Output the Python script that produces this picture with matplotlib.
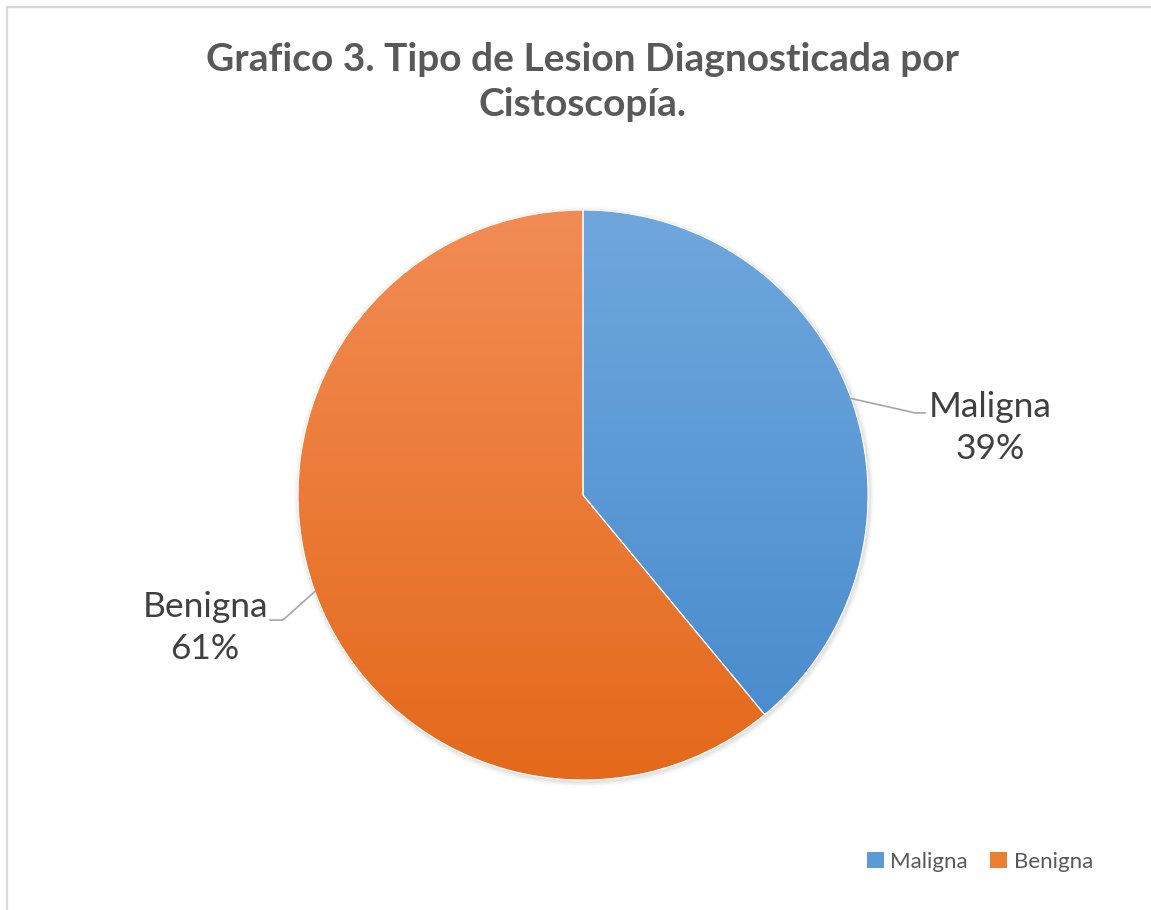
import numpy as np
import matplotlib
matplotlib.use("Agg")
import matplotlib.pyplot as plt
from matplotlib.patches import Rectangle, Patch
from matplotlib.colors import LinearSegmentedColormap

# Data
categories = ["Maligna", "Benigna"]
values = [39, 61]
top_colors = ["#6fa7dd", "#f28c55"]
bottom_colors = ["#4689cc", "#e4691a"]
solid_colors = ["#5b9bd5", "#ed7d31"]

plt.rcParams["font.family"] = ["Lato", "DejaVu Sans"]

W, H = 1151, 910
fig = plt.figure(figsize=(W / 100, H / 100), dpi=100)
fig.patch.set_facecolor("white")

# chart border (only left/top visible in the reference)
fig.patches.append(Rectangle((6.5 / W, -0.1), 1.2, 1 - 7.5 / H + 0.1,
                             transform=fig.transFigure, fill=False,
                             edgecolor="#d9d9d9", linewidth=1.6))

# pie axes: centre (583, 495) px, radius 285 px
cx, cy, r = 583, 495, 285
ax = fig.add_axes([(cx - r) / W, (H - cy - r) / H, 2 * r / W, 2 * r / H])

wedges, _ = ax.pie(values, startangle=90, counterclock=False, radius=1,
                   colors=solid_colors,
                   wedgeprops=dict(edgecolor="white", linewidth=0.8))
ax.set_xlim(-1, 1)
ax.set_ylim(-1, 1)
ax.set_aspect("equal")
ax.axis("off")

# soft shadow around the pie
for k, a in enumerate([0.05, 0.035, 0.02]):
    circ = plt.Circle((0.004, -0.006), 1 + 0.006 * (k + 1), color="black",
                      alpha=a, zorder=0, clip_on=False, linewidth=0)
    ax.add_patch(circ)

# vertical gradient fill clipped to each wedge
grad = np.linspace(1, 0, 256).reshape(-1, 1)
for w, c0, c1 in zip(wedges, top_colors, bottom_colors):
    cmap = LinearSegmentedColormap.from_list("g", [c1, c0])
    im = ax.imshow(grad, extent=(-1, 1, -1, 1), cmap=cmap, aspect="auto",
                   origin="upper", zorder=w.get_zorder() + 0.1,
                   interpolation="bilinear")
    im.set_clip_path(w)
# white separators on top
for w in wedges:
    w.set_facecolor("none")
    w.set_zorder(5)

# data labels with leader lines
total = sum(values)
start = 90.0
label_pos = {"Maligna": (1.428, 0.236), "Benigna": (-1.326, -0.467)}
elbow_x = {"Maligna": (1.165, 1.20), "Benigna": (-1.053, -1.098)}
elbow_y = {"Maligna": 0.288, "Benigna": -0.439}
for cat, v in zip(categories, values):
    span = v / total * 360
    mid = np.deg2rad(start - span / 2)
    start -= span
    px, py = np.cos(mid), np.sin(mid)
    lx, ly = label_pos[cat]
    ex0, ex1 = elbow_x[cat]
    ey = elbow_y[cat]
    ax.plot([px, ex0, ex1], [py, ey, ey], color="#a6a6a6", lw=1.2,
            clip_on=False, zorder=6)
    ax.text(lx, ly, f"{cat}\n{v}%", ha="center", va="center", fontsize=25.5,
            color="#404040", linespacing=1.4, clip_on=False)

# title
fig.text(583 / W, 1 - 82 / H,
         "Grafico 3. Tipo de Lesion Diagnosticada por\nCistoscopía.",
         ha="center", va="center", fontsize=28, fontweight="bold",
         color="#595959", linespacing=1.35)

# legend
handles = [Patch(facecolor=c, edgecolor="none") for c in solid_colors]
fig.legend(handles, categories, loc="center",
           bbox_to_anchor=(980 / W, 1 - 862 / H), ncol=2, frameon=False,
           fontsize=16, handlelength=0.75, handleheight=0.75,
           handletextpad=0.3, columnspacing=1.0, labelcolor="#595959")

fig.savefig("out.png", dpi=100, facecolor="white")
